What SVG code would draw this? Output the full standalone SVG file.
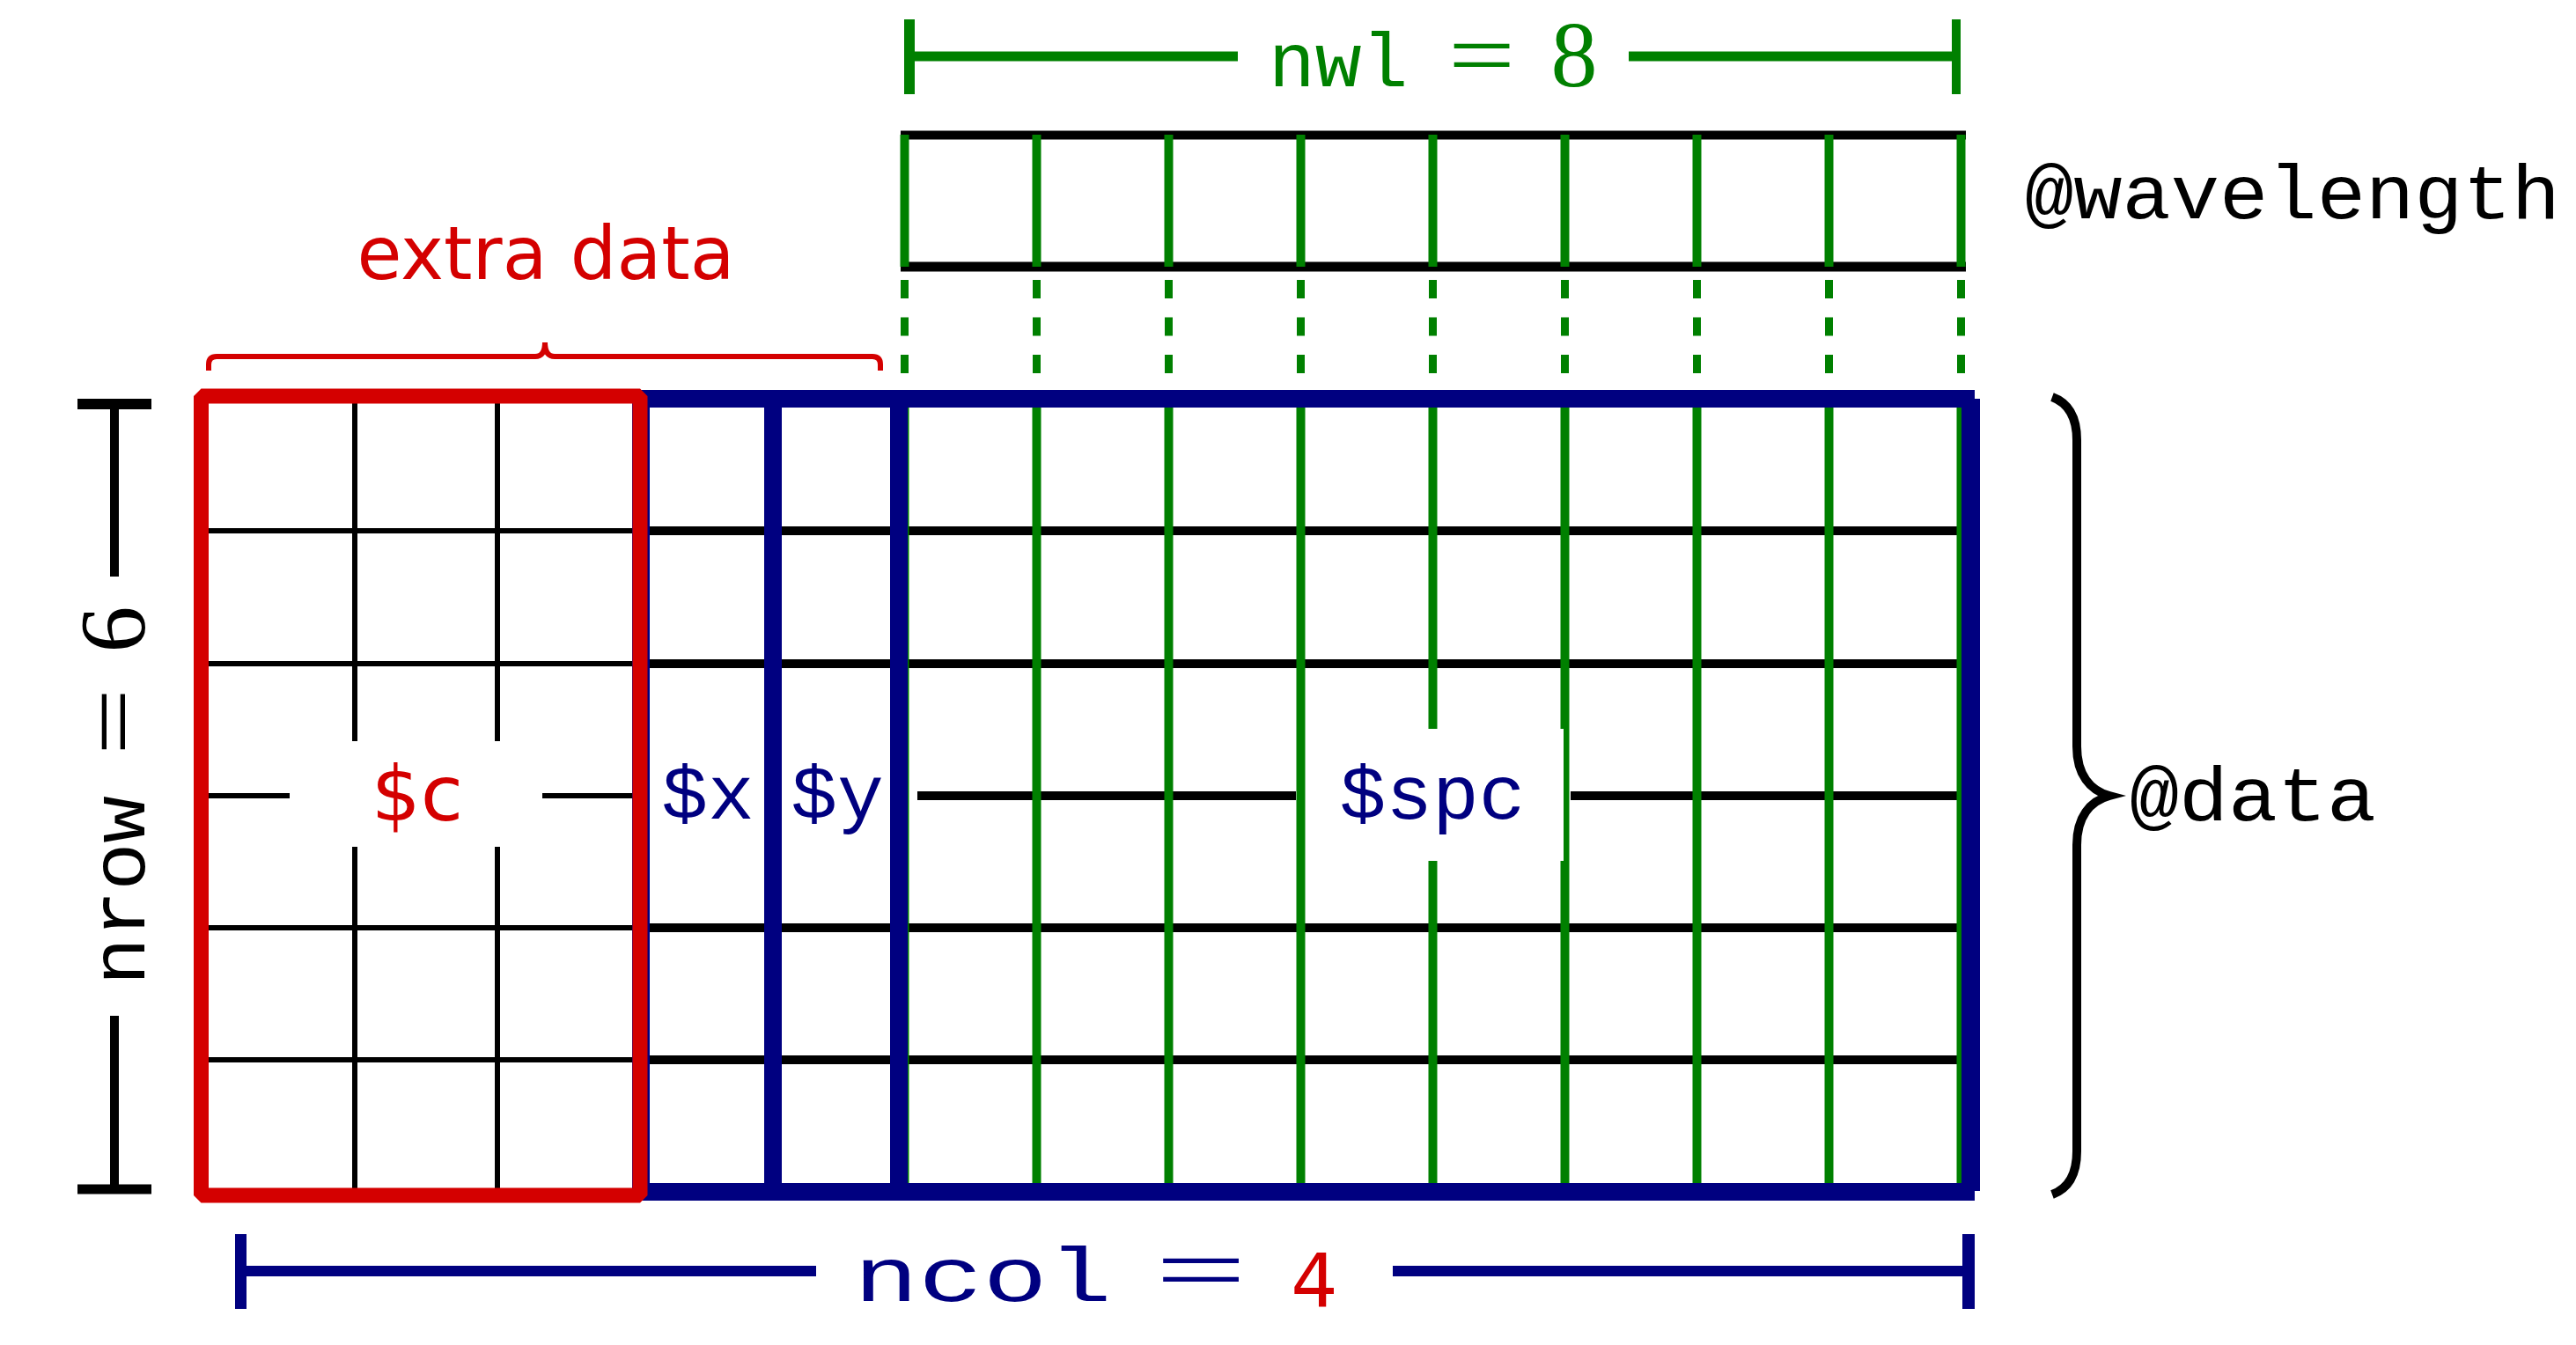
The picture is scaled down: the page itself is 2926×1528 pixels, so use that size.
<svg xmlns="http://www.w3.org/2000/svg" width="2926" height="1528" viewBox="0 0 2926 1528">
<style>
  .g { stroke: #008000; fill: none; }
  .k { stroke: #000000; fill: none; }
  .b { stroke: #000080; fill: none; }
  .r { stroke: #d40000; fill: none; }
  .mono { font-family: "Liberation Mono", "DejaVu Sans Mono", monospace; font-size: 88px; }
  .serif { font-family: "Liberation Serif", "DejaVu Serif", serif; font-size: 106px; }
  .sans { font-family: "DejaVu Sans", "Liberation Sans", sans-serif; }
  .bg { fill: #ffffff; stroke: none; }
</style>
<rect width="2926" height="1528" fill="#ffffff"/>

<g id="wavelength">
  <line class="k" x1="1023" y1="153.5" x2="2233" y2="153.5" stroke-width="10"/>
  <line class="k" x1="1023" y1="303" x2="2233" y2="303" stroke-width="11"/>
  <g class="g" stroke-width="10">
    <line x1="1027.5" y1="153" x2="1027.5" y2="303"/>
    <line x1="1177.5" y1="153" x2="1177.5" y2="303"/>
    <line x1="1327.5" y1="153" x2="1327.5" y2="303"/>
    <line x1="1477.5" y1="153" x2="1477.5" y2="303"/>
    <line x1="1627.5" y1="153" x2="1627.5" y2="303"/>
    <line x1="1777.5" y1="153" x2="1777.5" y2="303"/>
    <line x1="1927.5" y1="153" x2="1927.5" y2="303"/>
    <line x1="2077.5" y1="153" x2="2077.5" y2="303"/>
    <line x1="2227.5" y1="153" x2="2227.5" y2="303"/>
  </g>
  <text class="mono" x="2300" y="248" fill="#000000" textLength="608" lengthAdjust="spacingAndGlyphs">@wavelength</text>
</g>

<g id="connectors">
  <g class="g" stroke-width="9" stroke-dasharray="21 21.5">
    <line x1="1027.5" y1="318" x2="1027.5" y2="425"/>
    <line x1="1177.5" y1="318" x2="1177.5" y2="425"/>
    <line x1="1327.5" y1="318" x2="1327.5" y2="425"/>
    <line x1="1477.5" y1="318" x2="1477.5" y2="425"/>
    <line x1="1627.5" y1="318" x2="1627.5" y2="425"/>
    <line x1="1777.5" y1="318" x2="1777.5" y2="425"/>
    <line x1="1927.5" y1="318" x2="1927.5" y2="425"/>
    <line x1="2077.5" y1="318" x2="2077.5" y2="425"/>
    <line x1="2227.5" y1="318" x2="2227.5" y2="425"/>
  </g>
</g>

<g id="dim-nwl">
  <g class="g">
    <line x1="1033" y1="22" x2="1033" y2="107" stroke-width="12"/>
    <line x1="2222" y1="22" x2="2222" y2="107" stroke-width="10"/>
    <line x1="1033" y1="64" x2="1406" y2="64" stroke-width="11"/>
    <line x1="1850" y1="64" x2="2222" y2="64" stroke-width="11"/>
  </g>
  <text y="98" fill="#008000"><tspan class="mono" x="1441">nwl</tspan> <tspan class="serif" x="1685" text-anchor="middle" textLength="76" lengthAdjust="spacingAndGlyphs">=</tspan> <tspan class="serif" x="1788" text-anchor="middle">8</tspan></text>
</g>

<g id="data-matrix">
  <!-- extra data grid (black) -->
  <g class="k" stroke-width="6">
    <line x1="237" y1="603" x2="719" y2="603"/>
    <line x1="237" y1="754" x2="719" y2="754"/>
    <line x1="237" y1="904" x2="719" y2="904"/>
    <line x1="237" y1="1054" x2="719" y2="1054"/>
    <line x1="237" y1="1204" x2="719" y2="1204"/>
    <line x1="403" y1="458" x2="403" y2="1352"/>
    <line x1="565" y1="458" x2="565" y2="1352"/>
  </g>
  <rect class="bg" x="329" y="842" width="287" height="120"/>
  <!-- spectra grid rows (black) -->
  <g class="k" stroke-width="10">
    <line x1="737" y1="603" x2="2224" y2="603"/>
    <line x1="737" y1="754" x2="2224" y2="754"/>
    <line x1="1042" y1="904" x2="1472" y2="904"/>
    <line x1="1784" y1="904" x2="2224" y2="904"/>
    <line x1="737" y1="1054" x2="2224" y2="1054"/>
    <line x1="737" y1="1204" x2="2224" y2="1204"/>
  </g>
  <g class="g" stroke-width="10">
    <line x1="1027.5" y1="460" x2="1027.5" y2="1347"/>
    <line x1="1177.5" y1="460" x2="1177.5" y2="1347"/>
    <line x1="1327.5" y1="460" x2="1327.5" y2="1347"/>
    <line x1="1477.5" y1="460" x2="1477.5" y2="1347"/>
    <line x1="1627.5" y1="460" x2="1627.5" y2="1347"/>
    <line x1="1777.5" y1="460" x2="1777.5" y2="1347"/>
    <line x1="1927.5" y1="460" x2="1927.5" y2="1347"/>
    <line x1="2077.5" y1="460" x2="2077.5" y2="1347"/>
    <line x1="2227.5" y1="460" x2="2227.5" y2="1347"/>
  </g>
  <rect class="bg" x="737" y="830" width="294" height="148"/>
  <rect class="bg" x="1484" y="828" width="292" height="150"/>
  <!-- blue frame -->
  <g class="b" stroke-width="20">
    <line x1="728" y1="453" x2="728" y2="1354"/>
    <line x1="728" y1="453" x2="2243" y2="453"/>
    <line x1="728" y1="1354" x2="2243" y2="1354"/>
    <line x1="2238.5" y1="453" x2="2238.5" y2="1353" stroke-width="21"/>
    <line x1="878" y1="453" x2="878" y2="1354"/>
    <line x1="1021" y1="453" x2="1021" y2="1354"/>
  </g>
  <!-- red frame -->
  <rect class="r" x="228.5" y="450" width="498.5" height="908" stroke-width="17" stroke-linejoin="bevel"/>
  <text class="sans" x="474" y="932" font-size="88" fill="#d40000" text-anchor="middle">$c</text>
  <g class="mono" fill="#000080" text-anchor="middle">
    <text x="804" y="930">$x</text>
    <text x="951" y="930">$y</text>
    <text x="1627" y="930">$spc</text>
  </g>
</g>

<g id="extra-data">
  <path class="r" stroke-width="6" d="M237,421 L237,414 Q237,405 246,405 L608,405 Q619,405 619,389 Q619,405 630,405 L991,405 Q1000,405 1000,414 L1000,421"/>
  <text class="sans" x="620" y="317" font-size="84" fill="#d40000" text-anchor="middle" textLength="429" lengthAdjust="spacingAndGlyphs">extra data</text>
</g>

<g id="data-label">
  <path class="k" stroke-width="10" d="M2331,451 C2350,458 2359,474 2359,500 L2359,848 C2359,880 2374,898 2396,904 C2374,910 2359,928 2359,960 L2359,1308 C2359,1334 2350,1350 2331,1357"/>
  <text class="mono" x="2419" y="932" fill="#000000" textLength="280" lengthAdjust="spacingAndGlyphs">@data</text>
</g>

<g id="dim-nrow">
  <g class="k">
    <line x1="88" y1="459" x2="172" y2="459" stroke-width="12"/>
    <line x1="88" y1="1351" x2="172" y2="1351" stroke-width="11"/>
    <line x1="130" y1="459" x2="130" y2="655" stroke-width="10"/>
    <line x1="130" y1="1154" x2="130" y2="1351" stroke-width="10"/>
  </g>
  <text transform="translate(164,0) rotate(-90)" fill="#000000"><tspan class="mono" x="-1119" textLength="215" lengthAdjust="spacingAndGlyphs">nrow</tspan> <tspan class="serif" x="-818" text-anchor="middle" textLength="76" lengthAdjust="spacingAndGlyphs">=</tspan> <tspan class="serif" x="-715" text-anchor="middle">6</tspan></text>
</g>

<g id="dim-ncol">
  <g class="b">
    <line x1="273.5" y1="1402" x2="273.5" y2="1487" stroke-width="13"/>
    <line x1="2236" y1="1402" x2="2236" y2="1487" stroke-width="14"/>
    <line x1="273.5" y1="1444" x2="927" y2="1444" stroke-width="12"/>
    <line x1="1582" y1="1444" x2="2236" y2="1444" stroke-width="12"/>
  </g>
  <text y="1478" fill="#000080"><tspan class="mono" x="970" textLength="293" lengthAdjust="spacingAndGlyphs">ncol</tspan> <tspan class="serif" x="1366" text-anchor="middle" textLength="104" lengthAdjust="spacingAndGlyphs">=</tspan> <tspan class="sans" x="1493" y="1484" font-size="84" fill="#d40000" text-anchor="middle">4</tspan></text>
</g>
</svg>
